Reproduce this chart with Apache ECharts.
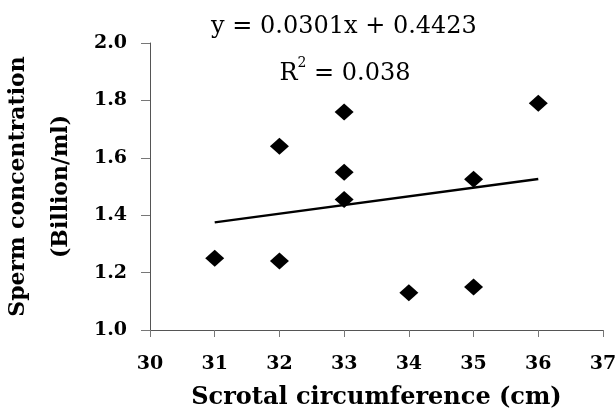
<!DOCTYPE html>
<html>
<head>
<meta charset="utf-8">
<script src="https://cdn.jsdelivr.net/npm/echarts@6/dist/echarts.min.js"></script>
<style>
  html, body { margin: 0; padding: 0; background: #fff; }
  #chart { width: 616px; height: 410px; }
</style>
</head>
<body>
<div id="chart"></div>
<script>
// scrotal circumference (cm) vs sperm concentration (billion/ml)
var circumference = [31, 32, 32, 33, 33, 33, 34, 35, 35, 36];
var concentration = [1.25, 1.64, 1.24, 1.76, 1.55, 1.455, 1.13, 1.525, 1.15, 1.79];
// trendline end points
var trendX = [31, 36];
var trendY = [1.375, 1.526];
var xTicks = [30, 31, 32, 33, 34, 35, 36, 37];
var yTicks = [1.0, 1.2, 1.4, 1.6, 1.8, 2.0];

var points = [];
for (var i = 0; i < circumference.length; i++) {
    points.push([circumference[i], concentration[i]]);
}
var trend = [];
for (var j = 0; j < trendX.length; j++) {
    trend.push([trendX[j], trendY[j]]);
}

var font = '"DejaVu Serif", "Liberation Serif", serif';
var myChart = echarts.init(document.getElementById('chart'));
var option = {
    animation: false,
    backgroundColor: '#fff',
    grid: { left: 150, right: 13, top: 43, bottom: 80, containLabel: false, outerBoundsMode: 'none' },
    xAxis: {
        type: 'value',
        min: xTicks[0],
        max: xTicks[xTicks.length - 1],
        interval: 1,
        splitLine: { show: false },
        axisLine: { lineStyle: { color: '#555', width: 1 } },
        axisTick: { inside: false, length: 7, lineStyle: { color: '#777' } },
        axisLabel: {
            margin: 25, color: '#000', fontFamily: font, fontWeight: 'bold', fontSize: 19
        },
        name: 'Scrotal circumference (cm)',
        nameLocation: 'middle',
        nameGap: 56,
        nameTextStyle: { color: '#000', fontFamily: font, fontWeight: 'bold', fontSize: 24 }
    },
    yAxis: {
        type: 'value',
        min: yTicks[0],
        max: yTicks[yTicks.length - 1],
        interval: 0.2,
        splitLine: { show: false },
        axisLine: { show: true, lineStyle: { color: '#555', width: 1 } },
        axisTick: { show: true, inside: false, length: 9, lineStyle: { color: '#777' } },
        axisLabel: {
            margin: 23, color: '#000', fontFamily: font, fontWeight: 'bold', fontSize: 19,
            formatter: function (v) { return v.toFixed(1); }
        },
        name: 'Sperm concentration\n(Billion/ml)',
        nameLocation: 'middle',
        nameGap: 60,
        nameRotate: 90,
        nameTextStyle: {
            color: '#000', fontFamily: font, fontWeight: 'bold', fontSize: 22, lineHeight: 43
        }
    },
    graphic: [
        {
            type: 'text',
            x: 344, y: 27,
            style: {
                text: 'y = 0.0301x + 0.4423',
                textAlign: 'center', textVerticalAlign: 'middle',
                font: '24px ' + font, fill: '#000'
            }
        },
        {
            type: 'text',
            x: 345, y: 71,
            style: {
                text: '{r|R}{s|2}{r| = 0.038}',
                textAlign: 'center', textVerticalAlign: 'middle',
                rich: {
                    r: { fontFamily: font, fontSize: 24, fill: '#000', verticalAlign: 'bottom', lineHeight: 30 },
                    s: { fontFamily: font, fontSize: 14, fill: '#000', verticalAlign: 'top', lineHeight: 30 }
                }
            }
        }
    ],
    series: [
        {
            type: 'line',
            data: trend,
            symbol: 'none',
            lineStyle: { color: '#000', width: 2.5 },
            z: 1
        },
        {
            type: 'scatter',
            data: points,
            symbol: 'diamond',
            symbolSize: [19, 17],
            itemStyle: { color: '#000', opacity: 1 },
            z: 2
        }
    ]
};
myChart.setOption(option);
</script>
</body>
</html>
